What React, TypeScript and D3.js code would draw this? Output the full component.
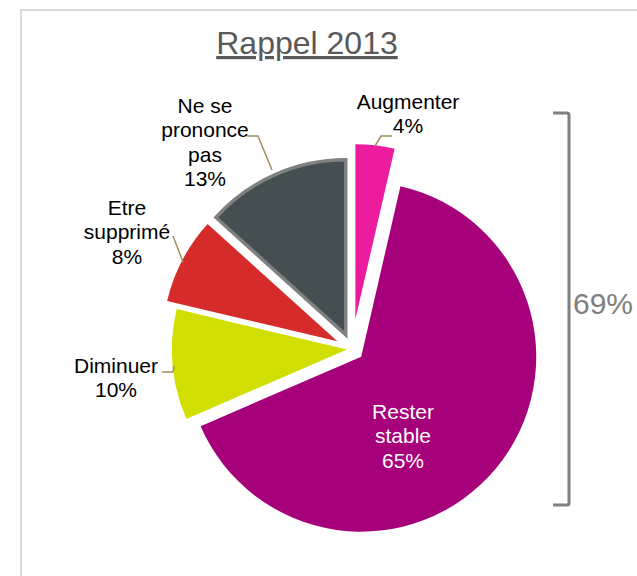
import React from 'react';
import * as d3 from 'd3';

const categories = ['Augmenter', 'Rester stable', 'Diminuer', 'Etre supprimé', 'Ne se prononce pas'];
const values = [3.6, 64.9, 10.2, 8.0, 13.3];
const valueLabels = ['4%', '65%', '10%', '8%', '13%'];
const labelLines = [
  ['Augmenter', '4%'],
  ['Rester', 'stable', '65%'],
  ['Diminuer', '10%'],
  ['Etre', 'supprimé', '8%'],
  ['Ne se', 'prononce', 'pas', '13%'],
];
const bracketLabel = '69%';
const chartTitle = 'Rappel 2013';

const colors = ['#ED1C9E', '#A6007A', '#D0DF00', '#D62B2B', '#434F51'];
const explode = [30, 12, 5, 16.5, 15.5];
const labelPos = [
  { x: 408, y: 101, color: '#000' },
  { x: 403, y: 411, color: '#fff' },
  { x: 116, y: 365, color: '#000' },
  { x: 127, y: 207, color: '#000' },
  { x: 205, y: 105, color: '#000' },
];

const W = 637;
const H = 576;
const cx = 352;
const cy = 349;
const R = 175;
const FS = 21;
const LH = 24.5;
const FONT = '"Liberation Sans", Arial, sans-serif';

export default function App() {
  const pie = d3.pie<number>().sort(null).value((d) => d).startAngle(0).endAngle(2 * Math.PI);
  const arcs = pie(values);
  const arc = d3.arc<d3.PieArcDatum<number>>().innerRadius(0).outerRadius(R);
  const leader = '#9C8F5E';

  return (
    <svg width={W} height={H} style={{ position: 'absolute', left: 0, top: 0 }} fontFamily={FONT}>
      <rect x={0} y={0} width={W} height={H} fill="#fff" />
      <rect x={21} y={10} width={W + 20} height={H + 20} fill="none" stroke="#D9D9D9" strokeWidth={2} />
      <text x={307} y={54} textAnchor="middle" fontSize={32} fill="#595959" textDecoration="underline">
        {chartTitle}
      </text>
      <g transform={`translate(${cx},${cy})`}>
        {arcs.map((a, i) => {
          const mid = (a.startAngle + a.endAngle) / 2;
          const dx = explode[i] * Math.sin(mid);
          const dy = -explode[i] * Math.cos(mid);
          const isGrey = i === 4;
          return (
            <path
              key={categories[i]}
              d={arc(a) || ''}
              transform={`translate(${dx},${dy})`}
              fill={colors[i]}
              stroke={isGrey ? '#808080' : 'none'}
              strokeWidth={isGrey ? 3.5 : 0}
              strokeLinejoin="miter"
            />
          );
        })}
      </g>
      {/* leader lines */}
      <path d="M392,136 L381,136 L375,146" fill="none" stroke={leader} strokeWidth={1.5} />
      <path d="M247,136 L258,136 L272,170" fill="none" stroke={leader} strokeWidth={1.5} />
      <path d="M173,236 L183,262" fill="none" stroke={leader} strokeWidth={1.5} />
      <path d="M162,372 L173,372 L174,366" fill="none" stroke={leader} strokeWidth={1.5} />
      {labelLines.map((lines, i) => (
        <text
          key={'lbl' + i}
          x={labelPos[i].x}
          y={labelPos[i].y + FS * 0.36}
          textAnchor="middle"
          fontSize={FS}
          fill={labelPos[i].color}
          aria-label={`${categories[i]} ${valueLabels[i]}`}
        >
          {lines.map((ln, j) => (
            <tspan key={j} x={labelPos[i].x} dy={j === 0 ? 0 : LH}>
              {ln}
            </tspan>
          ))}
        </text>
      ))}
      {/* bracket */}
      <path
        d="M553,113 L567,113 Q569,113 569,115 L569,503 Q569,505 567,505 L553,505"
        fill="none"
        stroke="#808080"
        strokeWidth={3}
      />
      <text x={573} y={303 + 30 * 0.36} fontSize={30} fill="#7F7F7F">
        {bracketLabel}
      </text>
    </svg>
  );
}
